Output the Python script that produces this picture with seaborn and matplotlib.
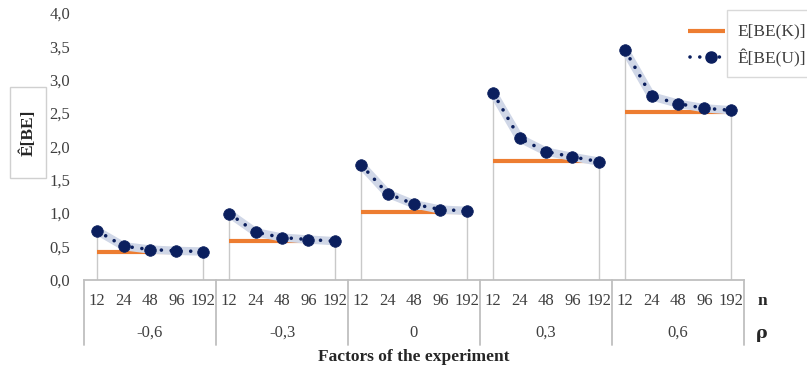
import numpy as np
import pandas as pd
import matplotlib
matplotlib.use("Agg")
import matplotlib.pyplot as plt
from matplotlib.patches import Rectangle
from matplotlib.lines import Line2D
import matplotlib.transforms as mtransforms
import seaborn as sns

# ---- data ----
rho_labels = ["-0,6", "-0,3", "0", "0,3", "0,6"]
n_labels = ["12", "24", "48", "96", "192"]
k_values = [0.42, 0.575, 1.01, 1.78, 2.52]
u_rho_m06 = [0.73, 0.50, 0.45, 0.43, 0.42]
u_rho_m03 = [0.99, 0.71, 0.63, 0.60, 0.575]
u_rho_0 = [1.72, 1.29, 1.13, 1.05, 1.03]
u_rho_03 = [2.80, 2.12, 1.92, 1.84, 1.77]
u_rho_06 = [3.44, 2.75, 2.64, 2.57, 2.54]
y_ticks = [0.0, 0.5, 1.0, 1.5, 2.0, 2.5, 3.0, 3.5, 4.0]

u_all = [u_rho_m06, u_rho_m03, u_rho_0, u_rho_03, u_rho_06]

rows = []
for g, (rho, k, us) in enumerate(zip(rho_labels, k_values, u_all)):
    for i, (n, u) in enumerate(zip(n_labels, us)):
        rows.append(dict(rho=rho, n=n, pos=g * len(n_labels) + i, K=k, U=u, group=g))
df = pd.DataFrame(rows)

sns.set_theme(style="white")
plt.rcParams["font.family"] = ["Liberation Serif", "DejaVu Serif"]

W, H = 807, 373
fig = plt.figure(figsize=(W / 100, H / 100), dpi=100)
ax = fig.add_axes([84 / W, 1 - 279.5 / H, 660 / W, 266.5 / H])

NAVY = "#0b1f5e"
ORANGE = "#ED7D31"
BAND = "#d0d7e7"
GRID = "#c9c9c9"
TXT = "#3f3f3f"

for g in range(len(rho_labels)):
    d = df[df.group == g]
    # drop lines at group ends
    for _, r in d.iloc[[0, -1]].iterrows():
        ax.vlines(r.pos, 0, max(r.U, r.K), color=GRID, lw=1.0, zorder=1)
    sns.lineplot(data=d, x="pos", y="K", ax=ax, color=ORANGE, lw=3.0,
                 solid_capstyle="butt", zorder=2, legend=False)
    sns.lineplot(data=d, x="pos", y="U", ax=ax, color=BAND, lw=6,
                 solid_capstyle="round", zorder=3, legend=False)
    sns.lineplot(data=d, x="pos", y="U", ax=ax, color=NAVY, lw=2.6,
                 linestyle=(0, (0.01, 2.7)), dash_capstyle="round", zorder=4,
                 legend=False)
    sns.scatterplot(data=d, x="pos", y="U", ax=ax, color=NAVY, s=70,
                    edgecolor=NAVY, linewidth=0.5, zorder=5, legend=False)

ax.set_xlim(-0.5, len(df) - 0.5)
ax.set_ylim(0, 4)
ax.set_yticks(y_ticks)
ax.set_yticklabels([f"{v:.1f}".replace(".", ",") for v in y_ticks],
                   fontsize=12, color=TXT)
ax.tick_params(axis="y", length=0, pad=10)
ax.set_xticks([])
ax.set_xlabel("")
ax.set_ylabel("")
for s in ["left", "right", "top"]:
    ax.spines[s].set_visible(False)
ax.spines["bottom"].set_color("#bfbfbf")
ax.spines["bottom"].set_linewidth(1.3)

trans = mtransforms.blended_transform_factory(ax.transData, ax.transAxes)
y_n = -(301 - 279.5) / 266.5
y_rho = -(333 - 279.5) / 266.5
y_sep = -(345 - 279.5) / 266.5
y_fac = -(357 - 279.5) / 266.5

for _, r in df.iterrows():
    ax.text(r.pos, y_n, r.n, transform=trans, ha="center", va="center",
            fontsize=12, color=TXT, clip_on=False)
for g, rho in enumerate(rho_labels):
    ax.text(g * 5 + 2, y_rho, rho, transform=trans, ha="center", va="center",
            fontsize=12, color=TXT, clip_on=False)
for b in range(len(rho_labels) + 1):
    ax.plot([b * 5 - 0.5, b * 5 - 0.5], [0, y_sep], transform=trans,
            color="#bfbfbf", lw=1.3, clip_on=False)

ax.text(len(df) - 0.5 + 0.68, y_n, "n", transform=trans, ha="center", va="center",
        fontsize=12.5, fontweight="bold", color="#262626", clip_on=False)
ax.text(len(df) - 0.5 + 0.68, y_rho, "ρ", transform=trans, ha="center", va="center",
        fontsize=12.5, fontweight="bold", color="#262626", clip_on=False,
        family=["DejaVu Serif"])
ax.text(0.5, y_fac, "Factors of the experiment", transform=ax.transAxes,
        ha="center", va="center", fontsize=12.5, fontweight="bold",
        color="#262626", clip_on=False)

# y-label box
fig.patches.append(Rectangle((10 / W, 1 - 178 / H), 36 / W, 91 / H,
                             transform=fig.transFigure, facecolor="white",
                             edgecolor="#d0d0d0", lw=1.0))
fig.text(28 / W, 1 - 132.5 / H, "Ê[BE]", rotation=90, ha="center", va="center",
         fontsize=12.5, fontweight="bold", color="#262626")

# legend
fig.patches.append(Rectangle((727 / W, 1 - 77 / H), 100 / W, 67 / H,
                             transform=fig.transFigure, facecolor="white",
                             edgecolor="#d9d9d9", lw=1.0))
fig.lines.append(Line2D([688 / W, 725 / W], [1 - 31 / H, 1 - 31 / H],
                        transform=fig.transFigure, color=ORANGE, lw=3.0,
                        solid_capstyle="butt"))
fig.lines.append(Line2D([690 / W, 724 / W], [1 - 57 / H, 1 - 57 / H],
                        transform=fig.transFigure, color=NAVY, lw=2.6,
                        linestyle=(0, (0.01, 2.7)), dash_capstyle="round"))
fig.lines.append(Line2D([711 / W], [1 - 57 / H], transform=fig.transFigure,
                        color=NAVY, marker="o", markersize=8, lw=0))
fig.text(737 / W, 1 - 31 / H, "E[BE(K)]", ha="left", va="center",
         fontsize=12.5, color=TXT)
fig.text(737 / W, 1 - 58 / H, "Ê[BE(U)]", ha="left", va="center",
         fontsize=12.5, color=TXT)

fig.savefig("out.png", dpi=100, facecolor="white")
